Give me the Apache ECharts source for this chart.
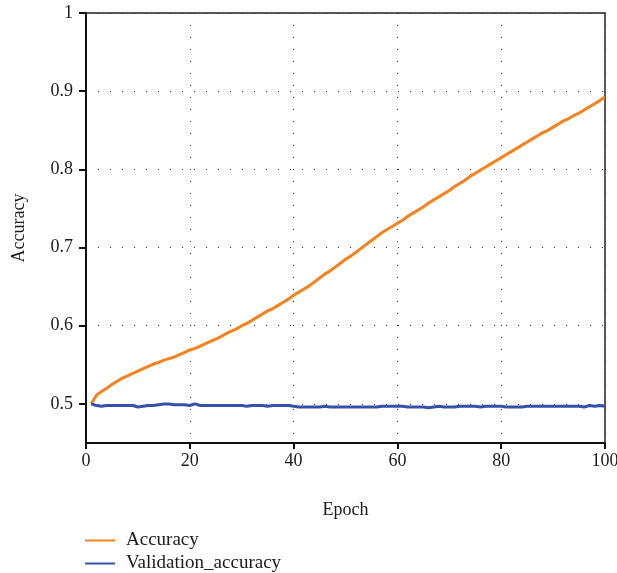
<!DOCTYPE html>
<html>
<head>
<meta charset="utf-8">
<script src="https://cdn.jsdelivr.net/npm/echarts@6/dist/echarts.min.js"></script>
<style>
  html, body { margin: 0; padding: 0; background: #fff; }
  #main { width: 617px; height: 573px; }
</style>
</head>
<body>
<div id="main"></div>
<script>
// training accuracy, read per epoch
var accuracy = [
    0.500, 0.511, 0.516, 0.520, 0.525, 0.529, 0.533, 0.536, 0.539, 0.542,
    0.545, 0.548, 0.551, 0.553, 0.556, 0.558, 0.560, 0.563, 0.566, 0.569,
    0.571, 0.574, 0.577, 0.580, 0.583, 0.586, 0.590, 0.593, 0.596, 0.600,
    0.603, 0.607, 0.611, 0.615, 0.619, 0.622, 0.626, 0.630, 0.634, 0.639,
    0.643, 0.647, 0.651, 0.656, 0.661, 0.666, 0.670, 0.675, 0.680, 0.685,
    0.689, 0.694, 0.699, 0.704, 0.709, 0.714, 0.719, 0.723, 0.727, 0.731,
    0.735, 0.740, 0.744, 0.748, 0.752, 0.757, 0.761, 0.765, 0.769, 0.773,
    0.778, 0.782, 0.786, 0.791, 0.795, 0.799, 0.803, 0.807, 0.811, 0.815,
    0.819, 0.823, 0.827, 0.831, 0.835, 0.839, 0.843, 0.847, 0.850, 0.854,
    0.858, 0.862, 0.865, 0.869, 0.872, 0.876, 0.880, 0.884, 0.888, 0.893
];
var valAccuracy = [
    0.500, 0.498, 0.497, 0.498, 0.498, 0.498, 0.498, 0.498, 0.498, 0.496,
    0.497, 0.498, 0.498, 0.499, 0.500, 0.500, 0.499, 0.499, 0.499, 0.498,
    0.500, 0.498, 0.498, 0.498, 0.498, 0.498, 0.498, 0.498, 0.498, 0.498,
    0.497, 0.498, 0.498, 0.498, 0.497, 0.498, 0.498, 0.498, 0.498, 0.497,
    0.496, 0.496, 0.496, 0.496, 0.496, 0.497, 0.496, 0.496, 0.496, 0.496,
    0.496, 0.496, 0.496, 0.496, 0.496, 0.496, 0.497, 0.497, 0.497, 0.497,
    0.497, 0.496, 0.496, 0.496, 0.496, 0.495, 0.496, 0.497, 0.496, 0.496,
    0.496, 0.497, 0.497, 0.497, 0.497, 0.496, 0.497, 0.497, 0.497, 0.497,
    0.496, 0.496, 0.496, 0.496, 0.497, 0.497, 0.497, 0.497, 0.497, 0.497,
    0.497, 0.497, 0.497, 0.497, 0.497, 0.496, 0.498, 0.497, 0.498, 0.497
];
var yTicks = [0.5, 0.6, 0.7, 0.8, 0.9, 1];

var epochs = [];
for (var i = 0; i < accuracy.length; i++) epochs.push(i + 1);

function pairs(vals) {
    return vals.map(function (v, i) { return [epochs[i], v]; });
}

var font = 'Liberation Serif';
var ink = '#1a1a1a';
var dotted = { color: '#333', width: 1, type: [1, 11] };

function legendItem(name, top) {
    return {
        left: 80, top: top,
        itemWidth: 30, itemHeight: 14,
        icon: 'path://M0,6 L30,6 L30,8 L0,8 Z',
        textStyle: { fontFamily: font, fontSize: 19, color: ink, padding: [0, 0, 0, 6] },
        data: [name]
    };
}

var myChart = echarts.init(document.getElementById('main'));
myChart.setOption({
    animation: false,
    textStyle: { fontFamily: font, color: ink },
    grid: {
        left: 86, right: 12, top: 13, bottom: 130,
        outerBoundsMode: 'none',
        show: true, borderColor: '#222', borderWidth: 1.5
    },
    legend: [
        legendItem('Accuracy', 526),
        legendItem('Validation_accuracy', 549)
    ],
    xAxis: {
        type: 'value',
        min: 0, max: 100, interval: 20,
        name: 'Epoch',
        nameLocation: 'middle',
        nameGap: 58,
        nameTextStyle: { fontFamily: font, fontSize: 18, color: ink },
        axisLine: { lineStyle: { color: '#111', width: 2 } },
        axisTick: { length: 6, lineStyle: { color: '#111', width: 2 } },
        axisLabel: { fontFamily: font, fontSize: 18, color: ink, margin: 9 },
        splitLine: { show: true, lineStyle: dotted }
    },
    yAxis: {
        type: 'value',
        min: 0.45, max: 1,
        name: 'Accuracy',
        nameLocation: 'middle',
        nameGap: 58,
        nameTextStyle: { fontFamily: font, fontSize: 18, color: ink },
        axisLine: { show: true, lineStyle: { color: '#111', width: 2 } },
        axisTick: { show: true, length: 7, customValues: yTicks, lineStyle: { color: '#111', width: 2 } },
        axisLabel: { fontFamily: font, fontSize: 18, color: ink, margin: 13, customValues: yTicks },
        splitLine: { show: true, lineStyle: dotted }
    },
    series: [
        {
            name: 'Accuracy',
            type: 'line',
            data: pairs(accuracy),
            showSymbol: false,
            color: '#f5821f',
            lineStyle: { width: 3, color: '#f5821f' }
        },
        {
            name: 'Validation_accuracy',
            type: 'line',
            data: pairs(valAccuracy),
            showSymbol: false,
            color: '#3652a8',
            lineStyle: { width: 3, color: '#3652a8' }
        }
    ]
});
</script>
</body>
</html>
